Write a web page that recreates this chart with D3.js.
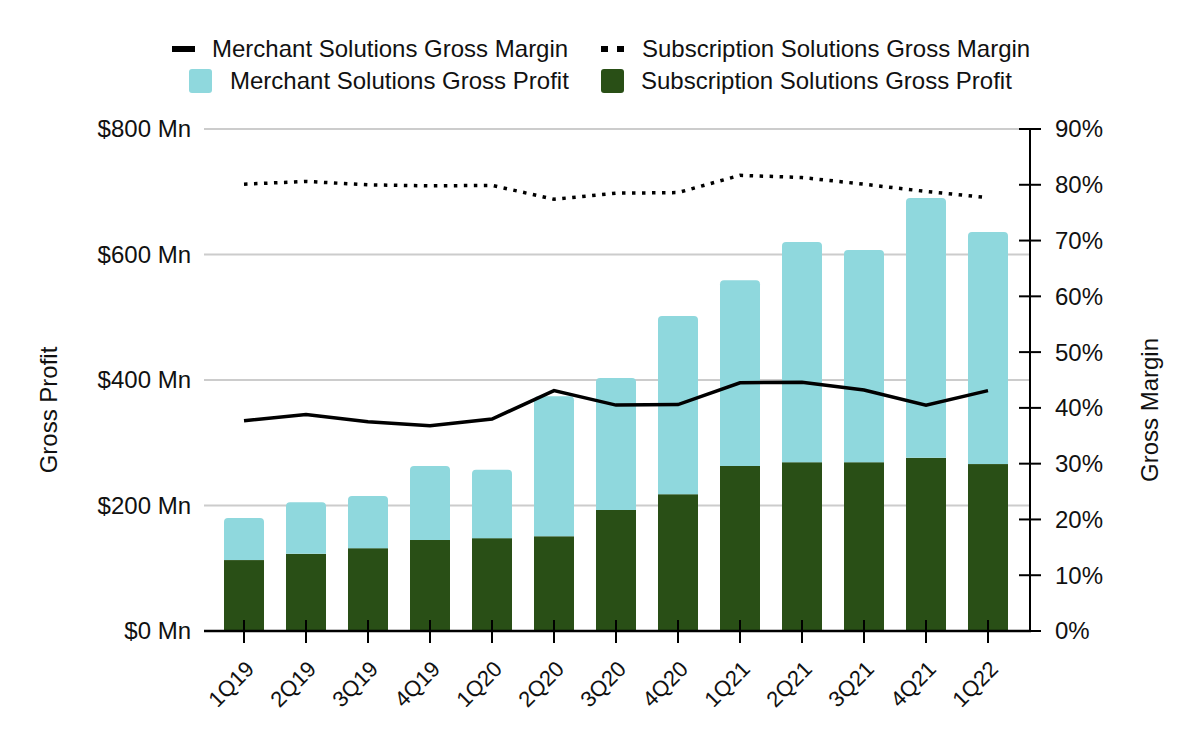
<!DOCTYPE html>
<html><head><meta charset="utf-8">
<script src="https://cdn.jsdelivr.net/npm/d3@7"></script>
<style>
html,body{margin:0;padding:0;background:#fff;}
svg text{font-family:"Liberation Sans",Arial,Helvetica,sans-serif;fill:#111;}
</style></head>
<body><svg id="chart" width="1200" height="742"></svg>
<script>
const categories = ["1Q19","2Q19","3Q19","4Q19","1Q20","2Q20","3Q20","4Q20","1Q21","2Q21","3Q21","4Q21","1Q22"];
const subscriptionProfit = [113,123,132,145,148,151,193,218,263,269,269,276,266];
const merchantProfit = [67,82,83,118,109,223,210,284,296,351,338,414,370];
const merchantMargin = [37.7,38.8,37.5,36.8,38.0,43.1,40.5,40.6,44.5,44.6,43.2,40.5,43.1];
const subscriptionMargin = [80.1,80.6,80.0,79.8,79.9,77.4,78.5,78.6,81.7,81.3,80.1,78.8,77.7];
const leftTicks = [0,200,400,600,800];
const rightTicks = [0,10,20,30,40,50,60,70,80,90];

const C_LIGHT = "#8fd8dd", C_DARK = "#294f16";
const FS = 24;
const svg = d3.select("#chart");
const x0 = 204, x1 = 1030, yTop = 129, yBot = 631;

const x = d3.scaleBand().domain(categories).range([213, 1019]).paddingInner(0.355).paddingOuter(0.1775);
const y = d3.scaleLinear().domain([0, 800]).range([yBot, yTop]);
const y2 = d3.scaleLinear().domain([0, 90]).range([yBot, yTop]);

// gridlines
svg.append("g").selectAll("line").data(leftTicks.filter(d => d > 0)).join("line")
  .attr("x1", x0).attr("x2", x1).attr("y1", d => y(d)).attr("y2", d => y(d))
  .attr("stroke", "#cccccc").attr("stroke-width", 2);

// left labels
svg.append("g").selectAll("text").data(leftTicks).join("text")
  .attr("x", 191).attr("y", d => y(d)).attr("dy", "0.35em").attr("text-anchor", "end")
  .attr("font-size", FS).text(d => "$" + d + " Mn");

// bars
const rr = 4;
const bw = x.bandwidth();
const bars = svg.append("g");
categories.forEach((c, i) => {
  const xl = x(c);
  const s = subscriptionProfit[i], m = merchantProfit[i];
  bars.append("rect").attr("x", xl).attr("width", bw)
    .attr("y", y(s)).attr("height", y(0) - y(s)).attr("fill", C_DARK);
  const t = y(s + m), b = y(s);
  const p = d3.path();
  p.moveTo(xl, b); p.lineTo(xl, t + rr); p.quadraticCurveTo(xl, t, xl + rr, t);
  p.lineTo(xl + bw - rr, t); p.quadraticCurveTo(xl + bw, t, xl + bw, t + rr);
  p.lineTo(xl + bw, b); p.closePath();
  bars.append("path").attr("d", p.toString()).attr("fill", C_LIGHT);
});

// bottom axis
const xa = svg.append("g");
xa.append("line").attr("x1", x0).attr("x2", x1 + 1).attr("y1", yBot).attr("y2", yBot)
  .attr("stroke", "#000").attr("stroke-width", 2.5);
xa.selectAll("line.t").data(categories).join("line").attr("class", "t")
  .attr("x1", d => x(d) + bw / 2).attr("x2", d => x(d) + bw / 2)
  .attr("y1", yBot - 11).attr("y2", yBot + 12).attr("stroke", "#000").attr("stroke-width", 2);
xa.selectAll("text").data(categories).join("text")
  .attr("transform", d => `translate(${x(d) + bw / 2 + 6},${yBot + 34}) rotate(-45)`)
  .attr("text-anchor", "end").attr("dy", "0.35em").attr("font-size", 22).text(d => d);

// right axis
const ra = svg.append("g");
ra.append("line").attr("x1", x1).attr("x2", x1).attr("y1", yTop).attr("y2", yBot + 1)
  .attr("stroke", "#000").attr("stroke-width", 2);
ra.selectAll("line.t").data(rightTicks).join("line").attr("class", "t")
  .attr("x1", x1 - 11).attr("x2", x1 + 11).attr("y1", d => y2(d)).attr("y2", d => y2(d))
  .attr("stroke", "#000").attr("stroke-width", 2);
ra.selectAll("text").data(rightTicks).join("text")
  .attr("x", 1055).attr("y", d => y2(d)).attr("dy", "0.35em").attr("font-size", FS).text(d => d + "%");

// lines
const cx = d => x(d) + bw / 2;
const lineM = d3.line().x((d, i) => cx(categories[i])).y(d => y2(d));
svg.append("path").attr("d", lineM(merchantMargin)).attr("fill", "none")
  .attr("stroke", "#000").attr("stroke-width", 3.5);
svg.append("path").attr("d", lineM(subscriptionMargin)).attr("fill", "none")
  .attr("stroke", "#000").attr("stroke-width", 3.5).attr("stroke-dasharray", "3.5,6.5");

// axis titles
svg.append("text").attr("transform", "translate(57,410) rotate(-90)").attr("text-anchor", "middle")
  .attr("font-size", FS).text("Gross Profit");
svg.append("text").attr("transform", "translate(1158,410) rotate(-90)").attr("text-anchor", "middle")
  .attr("font-size", FS).text("Gross Margin");

// legend
const lg = svg.append("g");
lg.append("rect").attr("x", 172).attr("y", 46).attr("width", 23).attr("height", 6).attr("fill", "#000");
lg.append("text").attr("x", 212).attr("y", 49).attr("dy", "0.35em").attr("font-size", FS).text("Merchant Solutions Gross Margin");
lg.append("rect").attr("x", 601).attr("y", 46).attr("width", 7).attr("height", 6).attr("fill", "#000");
lg.append("rect").attr("x", 617).attr("y", 46).attr("width", 7).attr("height", 6).attr("fill", "#000");
lg.append("text").attr("x", 642).attr("y", 49).attr("dy", "0.35em").attr("font-size", FS).text("Subscription Solutions Gross Margin");
lg.append("rect").attr("x", 189).attr("y", 69).attr("width", 23).attr("height", 24).attr("rx", 3).attr("fill", C_LIGHT);
lg.append("text").attr("x", 230).attr("y", 81).attr("dy", "0.35em").attr("font-size", FS).text("Merchant Solutions Gross Profit");
lg.append("rect").attr("x", 601).attr("y", 69).attr("width", 23).attr("height", 24).attr("rx", 3).attr("fill", C_DARK);
lg.append("text").attr("x", 641).attr("y", 81).attr("dy", "0.35em").attr("font-size", FS).text("Subscription Solutions Gross Profit");
</script></body></html>
